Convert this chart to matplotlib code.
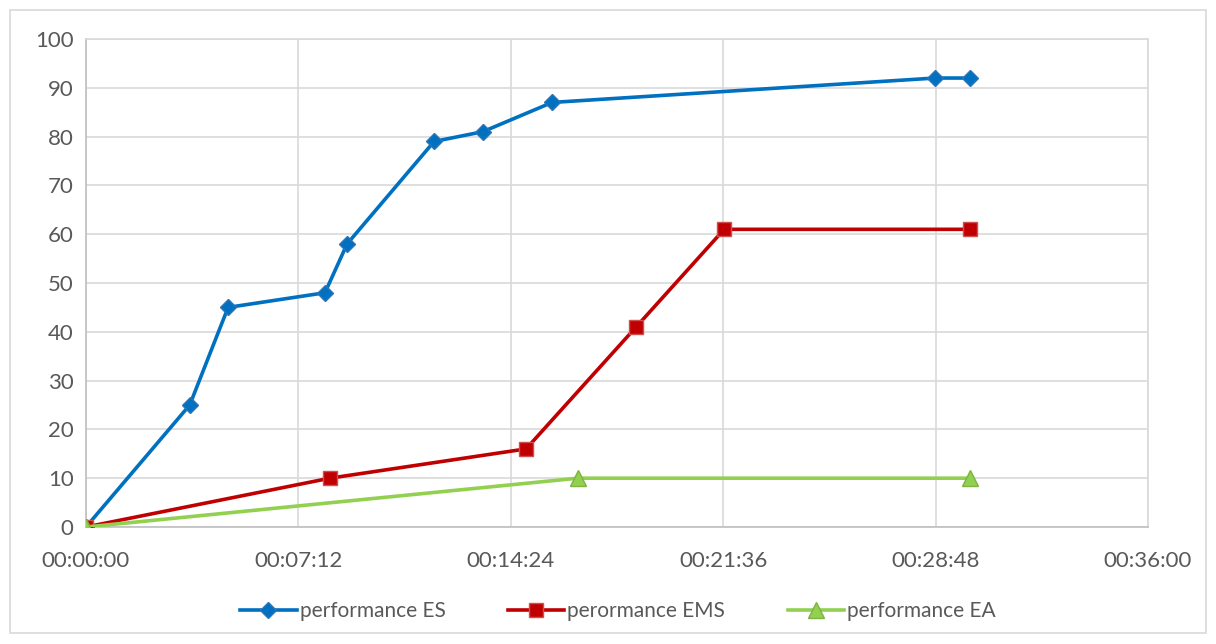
import matplotlib
matplotlib.use("Agg")
import matplotlib.pyplot as plt
from matplotlib.ticker import FuncFormatter, MultipleLocator
from matplotlib.patches import Rectangle

# time in seconds
es_t = [0, 211, 289, 486, 531, 708, 807, 948, 1727, 1798]
es_v = [0, 25, 45, 48, 58, 79, 81, 87, 92, 92]
ems_t = [0, 496, 895, 1119, 1298, 1798]
ems_v = [0, 10, 16, 41, 61, 61]
ea_t = [0, 1000, 1798]
ea_v = [0, 10, 10]
labels = ["performance ES", "perormance EMS", "performance EA"]

plt.rcParams['font.family'] = ['Lato', 'DejaVu Sans']
W, H = 1216, 644
fig = plt.figure(figsize=(W/100, H/100), dpi=100)
fig.patches.append(Rectangle((10/W, 1-633/H), 1196/W, 623/H, transform=fig.transFigure,
                             fill=False, edgecolor='#d9d9d9', linewidth=1.2))
ax = fig.add_axes([86/W, 1-527/H, 1062/W, 488/H])

ax.plot(es_t, es_v, color='#0070C0', lw=2.6, marker='D', ms=8.5,
        markerfacecolor='#0070C0', markeredgecolor='#2e75b6', label=labels[0], zorder=3)
ax.plot(ems_t, ems_v, color='#C00000', lw=2.6, marker='s', ms=10,
        markerfacecolor='#C00000', markeredgecolor='#d05050', label=labels[1], zorder=3)
ax.plot(ea_t, ea_v, color='#92D050', lw=2.6, marker='^', ms=11,
        markerfacecolor='#92D050', markeredgecolor='#7cb342', label=labels[2], zorder=3)

ax.set_xlim(0, 2160)
ax.set_ylim(0, 100)
ax.xaxis.set_major_locator(MultipleLocator(432))
ax.yaxis.set_major_locator(MultipleLocator(10))

def fmt(s, pos):
    s = int(round(s))
    return f"{s//3600:02d}:{(s%3600)//60:02d}:{s%60:02d}"
ax.xaxis.set_major_formatter(FuncFormatter(fmt))

ax.grid(True, color='#d9d9d9', lw=1.2)
ax.set_axisbelow(True)
for sp in ['top', 'right']:
    ax.spines[sp].set_color('#d9d9d9')
    ax.spines[sp].set_linewidth(1.2)
for sp in ['left', 'bottom']:
    ax.spines[sp].set_color('#bfbfbf')
    ax.spines[sp].set_linewidth(1.2)
ax.tick_params(length=0, labelsize=16, colors='#595959')
ax.tick_params(axis='x', pad=17)
ax.tick_params(axis='y', pad=9)

leg = fig.legend(loc='center', bbox_to_anchor=(618/W, 1-611/H), ncol=3, frameon=False,
                 fontsize=15, labelcolor='#595959', handlelength=2.7, columnspacing=3.0,
                 handletextpad=0.15)

fig.savefig("out.png", dpi=100)
